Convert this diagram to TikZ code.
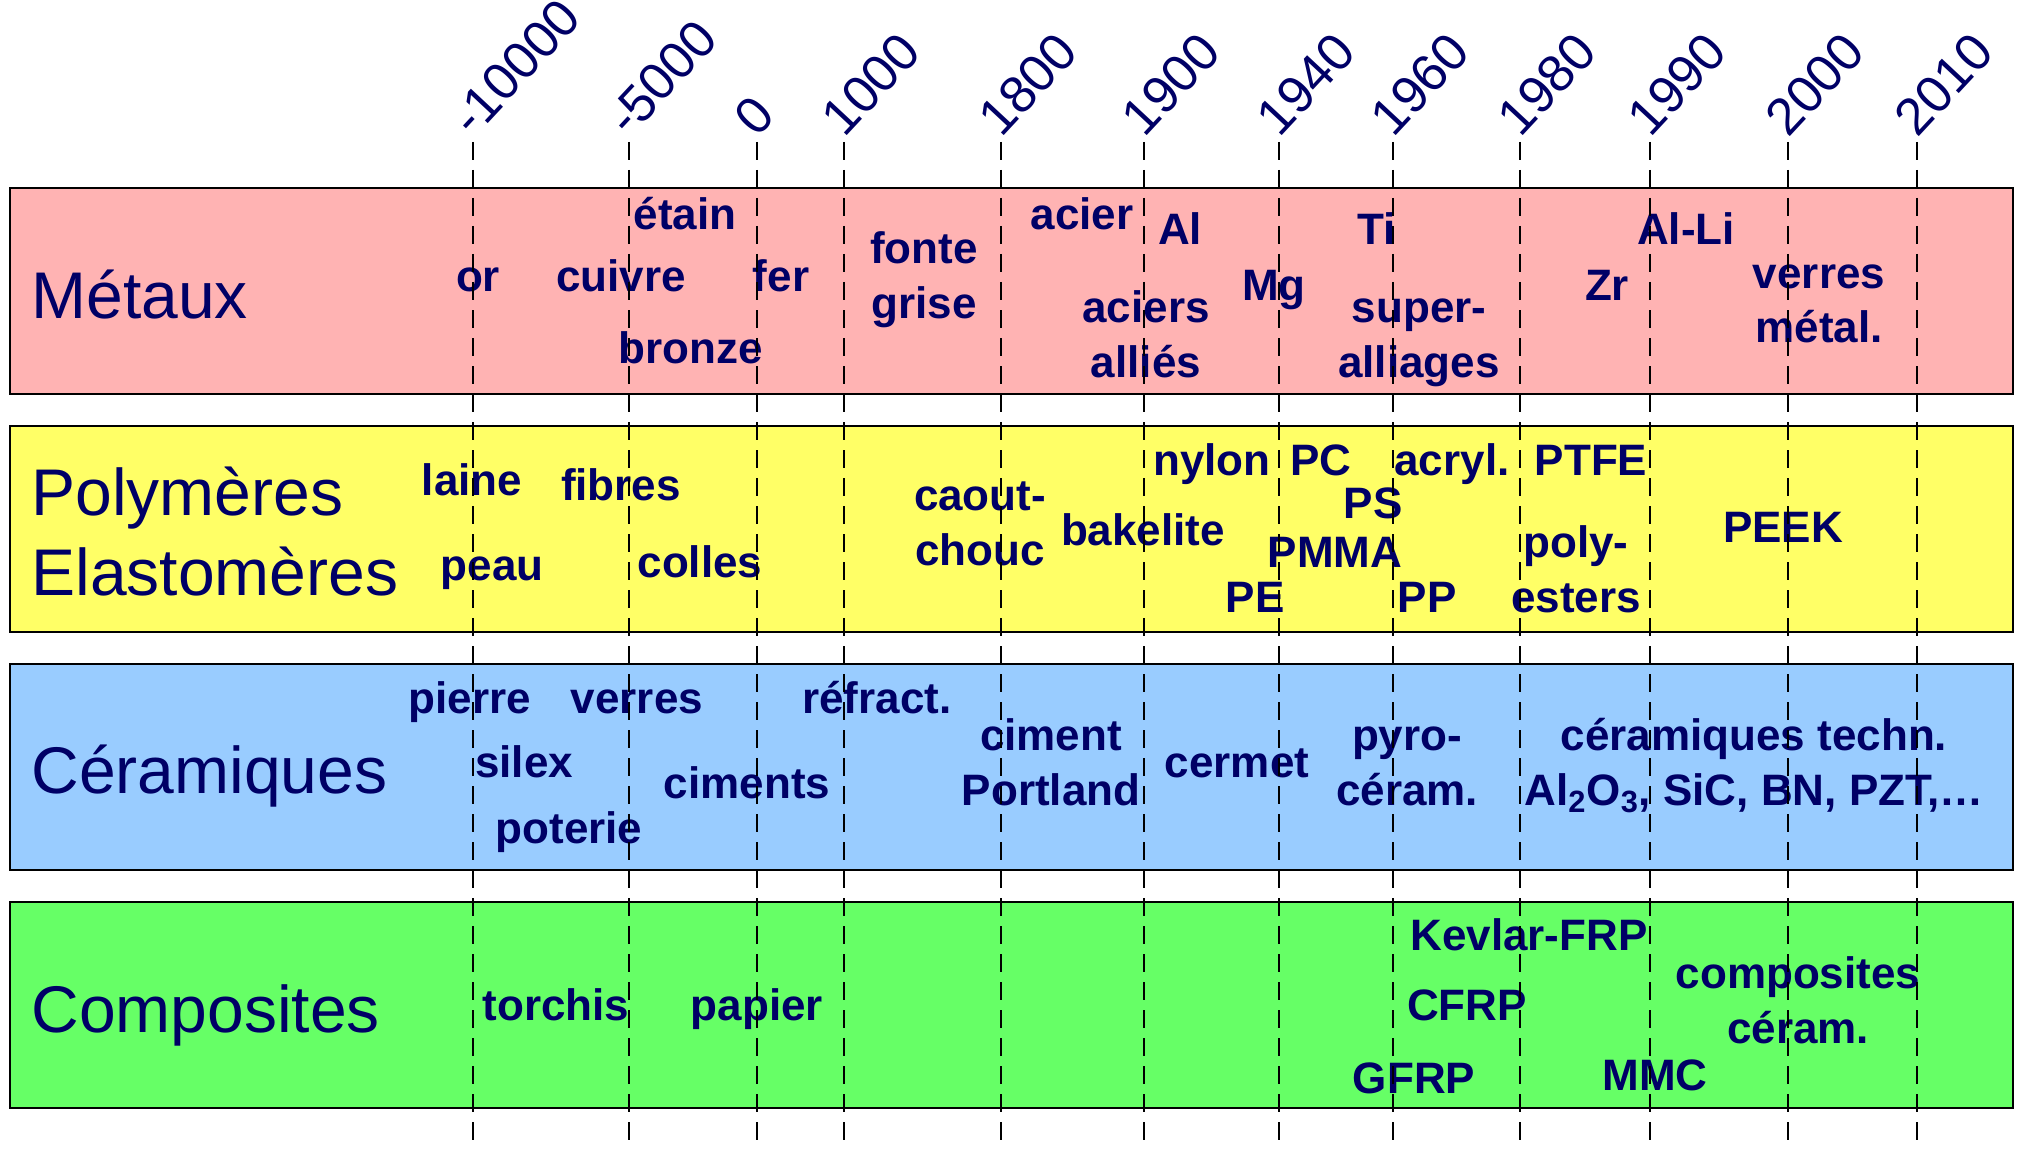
\documentclass[tikz,border=0pt]{standalone}
\usepackage{fontspec}
\setmainfont{Liberation Sans}
\definecolor{navy}{HTML}{000066}
\definecolor{metalfill}{HTML}{FFB3B3}
\definecolor{polyfill}{HTML}{FFFF66}
\definecolor{ceramfill}{HTML}{99CCFF}
\definecolor{compfill}{HTML}{66FF66}

\begin{document}
\begin{tikzpicture}[x=0.5pt,y=-0.5pt,
  band/.style={draw=black, line width=1.3pt, inner sep=0pt,
               minimum width=1001.5pt, minimum height=103pt},
  family/.style={font=\fontsize{33}{40}\selectfont, text=navy,
                 anchor=base west, inner sep=0pt, align=left},
  item/.style={font=\bfseries\fontsize{22}{27.5}\selectfont, text=navy,
               anchor=base, inner sep=0pt, align=center},
  year/.style={font=\fontsize{26}{30}\selectfont, text=navy,
               anchor=base west, rotate=47, inner sep=0pt},
  era/.style={draw=black, line width=0.75pt, dash pattern=on 9pt off 5pt}]
\useasboundingbox (0,0) rectangle (2018,1150);

% material family bands
\node[band, fill=metalfill] (metaux) at (1011.5,291) {};
\node[band, fill=polyfill]  (poly)   at (1011.5,529) {};
\node[band, fill=ceramfill] (ceram)  at (1011.5,767) {};
\node[band, fill=compfill]  (compo)  at (1011.5,1005) {};

% family names (multi-line labels are placed by their last baseline)
\node[family] (tmet) at (31,318) {Métaux};
\node[family] (tpol) at (31,595) {Polymères\\Elastomères};
\node[family] (tcer) at (31,793) {Céramiques};
\node[family] (tcom) at (31,1032) {Composites};

% metals
\node[item] (or)      at (478,292) {or};
\node[item] (cuivre)  at (621,292) {cuivre};
\node[item] (etain)   at (685,230) {étain};
\node[item] (fer)     at (781,292) {fer};
\node[item] (bronze)  at (691,363) {bronze};
\node[item] (fonte)   at (924,318) {fonte\\grise};
\node[item] (acier)   at (1082,230) {acier};
\node[item] (al)      at (1180,245) {Al};
\node[item] (aciers)  at (1146,377) {aciers\\alliés};
\node[item] (mg)      at (1274,300) {Mg};
\node[item] (ti)      at (1377,245) {Ti};
\node[item] (super)   at (1419,377) {super-\\alliages};
\node[item] (zr)      at (1607,300) {Zr};
\node[item] (alli)    at (1686,245) {Al-Li};
\node[item] (vmet)    at (1819,343) {verres\\métal.};

% polymers and elastomers
\node[item] (laine)   at (472,495) {laine};
\node[item] (fibres)  at (621,500) {fibres};
\node[item] (peau)    at (492,580) {peau};
\node[item] (colles)  at (700,577) {colles};
\node[item] (caout)   at (980,565) {caout-\\chouc};
\node[item] (bake)    at (1143,545) {bakelite};
\node[item] (nylon)   at (1212,475) {nylon};
\node[item] (pc)      at (1321,475) {PC};
\node[item] (acryl)   at (1452,475) {acryl.};
\node[item] (ptfe)    at (1591,475) {PTFE};
\node[item] (ps)      at (1373,518) {PS};
\node[item] (pmma)    at (1335,567) {PMMA};
\node[item] (pe)      at (1255,612) {PE};
\node[item] (pp)      at (1427,612) {PP};
\node[item] (polyest) at (1576,612) {poly-\\esters};
\node[item] (peek)    at (1783,542) {PEEK};

% ceramics
\node[item] (pierre)  at (470,713) {pierre};
\node[item] (verres)  at (637,713) {verres};
\node[item] (refract) at (877,713) {réfract.};
\node[item] (silex)   at (524,777) {silex};
\node[item] (ciments) at (747,798) {ciments};
\node[item] (poterie) at (569,843) {poterie};
\node[item] (portl)   at (1051,805) {ciment\\Portland};
\node[item] (cermet)  at (1237,777) {cermet};
\node[item] (pyro)    at (1407,805) {pyro-\\céram.};
\node[item] (techn)   at (1754,805) {céramiques techn.\\Al\textsubscript{2}O\textsubscript{3}, SiC, BN, PZT,…};

% composites
\node[item] (torchis) at (556,1020) {torchis};
\node[item] (papier)  at (757,1020) {papier};
\node[item] (kevlar)  at (1529,950) {Kevlar-FRP};
\node[item] (cfrp)    at (1467,1020) {CFRP};
\node[item] (gfrp)    at (1414,1093) {GFRP};
\node[item] (mmc)     at (1655,1090) {MMC};
\node[item] (ccer)    at (1798,1043) {composites\\céram.};

% time axis: dated dashed lines with their years
\foreach \x/\yr [count=\i] in {473/-10000, 629/-5000, 757/0, 844/1000,
    1001/1800, 1144/1900, 1279/1940, 1393/1960, 1520/1980, 1650/1990,
    1788/2000, 1917/2010} {
  \node[year] (yr\i) at (\x,139) {\yr};
  \coordinate (top\i) at (\x,142);
  \coordinate (bot\i) at (\x,1146);
  \draw[era] (top\i) -- (bot\i);
}
\end{tikzpicture}
\end{document}
